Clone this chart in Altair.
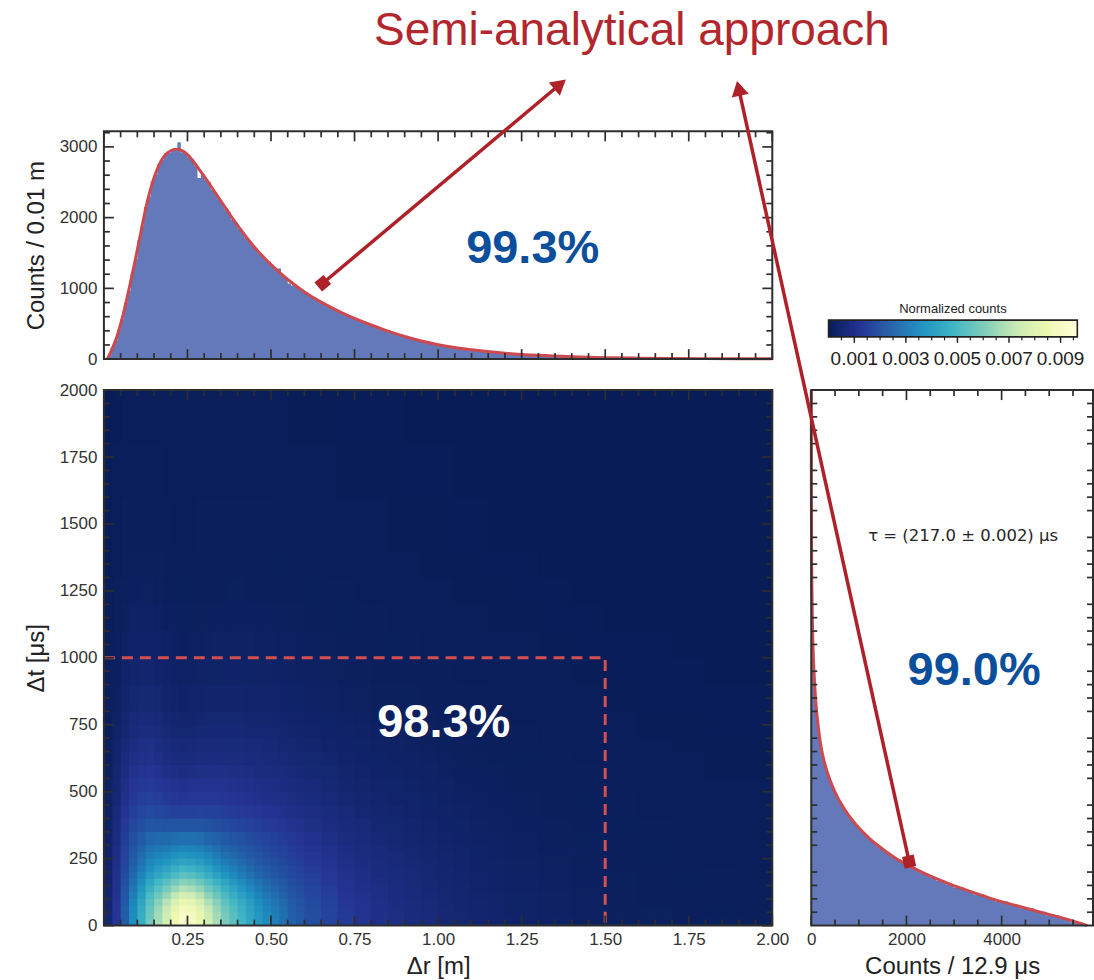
import altair as alt
import numpy as np
import pandas as pd

# ---------------------------------------------------------------- style
FONT = "Liberation Sans"
MATH_FONT = "DejaVu Sans"
HIST_FILL = "#6479b9"
FIT_RED = "#cc4a4f"
ARROW_RED = "#ae2129"
TITLE_RED = "#b2262d"
PCT_BLUE = "#0b4f9c"
FRAME = "#2e2e2e"
TEXT_DARK = "#262626"
CUT_RED = "#d34f50"

# ---------------------------------------------------------------- Δr histogram (bins of 0.01 m, 0 .. 2 m)
DR_BIN = 0.01
DR_COUNTS = [
    0, 45, 160, 255, 420, 570, 795, 970, 1215, 1410,
    1680, 1880, 2150, 2300, 2510, 2610, 2760, 2815, 2905, 2915,
    2970, 2950, 3065, 2925, 2915, 2850, 2820, 2735, 2560, 2625,
    2540, 2500, 2395, 2350, 2260, 2210, 2120, 2075, 1975, 1935,
    1845, 1800, 1720, 1680, 1600, 1565, 1495, 1465, 1400, 1380,
    1320, 1260, 1280, 1175, 1150, 1070, 1040, 1040, 990, 972,
    940, 898, 880, 840, 826, 788, 772, 735, 722, 690,
    676, 645, 632, 602, 590, 562, 552, 524, 514, 488,
    476, 450, 440, 414, 406, 381, 374, 350, 344, 322,
    316, 296, 290, 270, 266, 248, 243, 226, 222, 207,
    203, 188, 186, 173, 170, 158, 156, 144, 143, 132,
    131, 121, 120, 110, 109, 100, 99, 92, 91, 85,
    83, 77, 76, 70, 70, 65, 64, 59, 58, 54,
    53, 49, 49, 45, 44, 41, 40, 37, 37, 34,
    33, 30, 30, 27, 27, 25, 24, 22, 22, 21,
    20, 19, 18, 18, 17, 16, 16, 15, 14, 14,
    13, 13, 12, 12, 11, 11, 10, 10, 10, 9,
    9, 9, 8, 8, 8, 8, 7, 7, 7, 7,
    7, 6, 6, 6, 6, 6, 6, 5, 5, 5,
    5, 5, 5, 5, 5, 4, 4, 4, 4, 4,
]
DR_FIT_R = [0.01, 0.02, 0.03, 0.04, 0.05, 0.06, 0.07, 0.08, 0.09, 0.10,
            0.11, 0.12, 0.13, 0.14, 0.15, 0.16, 0.17, 0.18, 0.19, 0.20,
            0.21, 0.22, 0.23, 0.24, 0.25, 0.27, 0.29, 0.31, 0.33, 0.35,
            0.37, 0.40, 0.45, 0.50, 0.55, 0.60, 0.65, 0.70, 0.75, 0.80,
            0.85, 0.90, 0.95, 1.00, 1.10, 1.20, 1.30, 1.40, 1.50, 1.60,
            1.70, 1.80, 1.90, 2.00]
DR_FIT_C = [0, 95, 205, 335, 495, 680, 880, 1095, 1315, 1545,
            1780, 2015, 2230, 2410, 2565, 2690, 2790, 2865, 2915, 2945,
            2962, 2965, 2955, 2930, 2890, 2780, 2650, 2515, 2375, 2235,
            2095, 1890, 1585, 1335, 1125, 950, 806, 683, 577, 482,
            395, 320, 256, 204, 131, 84, 54, 34, 21, 14,
            9.5, 7, 5.5, 4.5]

# ---------------------------------------------------------------- Δt histogram (bins of 12.9 μs)
DT_BIN = 12.9
DT_COUNTS = [
    5690, 5440, 5210, 4920, 4680, 4390, 4140, 3860, 3640, 3410,
    3210, 2990, 2820, 2630, 2480, 2310, 2190, 2030, 1910, 1765,
    1670, 1550, 1470, 1360, 1290, 1195, 1130, 1045, 990, 918,
    868, 795, 765, 702, 668, 615, 585, 538, 510, 470,
    447, 410, 388, 360, 340, 318, 295, 270, 258, 236,
    226, 207, 199, 184, 178, 164, 158, 145, 141, 129,
    125, 114, 112, 102, 100, 91, 89, 81, 79, 72,
    70, 64, 62, 56, 55, 50, 49, 44, 43, 40,
    39, 35, 34, 31, 30, 28, 27, 25, 24, 22,
    21, 19, 18, 17, 16, 15, 14, 13, 12, 12,
    11, 10, 10, 9, 9, 8, 8, 8, 7, 7,
    7, 6, 6, 6, 5, 5, 5, 5, 4, 4,
    4, 4, 4, 3, 3, 3, 3, 3, 3, 2,
    2, 2, 2, 2, 2, 2, 2, 2, 2, 1,
    1, 1, 1, 1, 1, 1, 1, 1, 1, 1,
    1, 1, 1, 1, 1,
]
DT_FIT_T = [0, 25, 50, 75, 100, 125, 150, 175, 200, 225,
            250, 275, 300, 325, 350, 375, 400, 425, 450, 475,
            500, 550, 600, 650, 700, 750, 800, 850, 900, 950,
            1000, 1100, 1200, 1300, 1400, 1500, 1600, 1700, 1800, 2000]
DT_FIT_C = [5800, 5350, 4820, 4300, 3800, 3380, 2980, 2630, 2320, 2040,
            1790, 1580, 1395, 1225, 1080, 950, 835, 735, 645, 565,
            495, 380, 290, 225, 178, 142, 113, 90, 72, 57,
            45, 28, 18, 11, 7, 4.5, 3, 2, 1.5, 0.8]

# ---------------------------------------------------------------- 2-D map, normalized counts in units of 1e-5
HEAT_R_EDGES = ([round(0.025 * i, 3) for i in range(24)]
                + [round(0.6 + 0.05 * i, 3) for i in range(12)]
                + [round(1.2 + 0.1 * i, 3) for i in range(9)])
HEAT_T_EDGES = ([25 * i for i in range(12)]
                + [300 + 50 * i for i in range(10)]
                + [800 + 100 * i for i in range(6)]
                + [1400 + 200 * i for i in range(4)])
HEAT_E5 = [
    [50, 125, 240, 355, 460, 575, 670, 760, 855, 920, 895, 835, 750, 670, 595, 535, 480, 430, 385, 345, 315, 285, 250, 225, 195, 165, 135, 115, 100, 88, 77, 67, 58, 51, 44, 38, 32, 26, 21, 17, 14, 12, 10, 9],
    [50, 124, 238, 351, 455, 569, 663, 752, 846, 911, 886, 827, 743, 663, 589, 530, 475, 426, 381, 342, 312, 282, 248, 223, 193, 163, 134, 114, 99, 87, 76, 66, 57, 50, 44, 38, 32, 26, 21, 17, 14, 12, 10, 9],
    [49, 121, 232, 343, 444, 554, 645, 731, 821, 883, 859, 802, 721, 644, 572, 515, 462, 414, 371, 333, 304, 275, 241, 217, 189, 160, 131, 111, 97, 85, 75, 65, 56, 49, 43, 37, 31, 25, 20, 16, 14, 12, 10, 9],
    [48, 119, 227, 333, 429, 532, 616, 695, 779, 837, 815, 762, 686, 614, 546, 492, 443, 398, 357, 320, 293, 266, 233, 210, 183, 155, 127, 108, 94, 83, 73, 63, 55, 48, 42, 36, 30, 25, 20, 16, 13, 11, 9, 9],
    [46, 114, 218, 317, 405, 498, 571, 639, 713, 764, 745, 698, 630, 566, 505, 457, 412, 371, 334, 301, 276, 250, 221, 199, 174, 148, 122, 104, 91, 80, 70, 61, 53, 47, 40, 35, 29, 24, 19, 16, 13, 11, 9, 8],
    [45, 110, 209, 301, 380, 463, 526, 583, 646, 690, 674, 633, 574, 518, 464, 421, 381, 344, 311, 281, 258, 235, 208, 188, 165, 141, 116, 100, 87, 77, 68, 59, 51, 45, 39, 34, 28, 23, 19, 15, 12, 11, 9, 8],
    [43, 106, 200, 285, 356, 429, 481, 527, 579, 616, 603, 569, 518, 469, 422, 385, 350, 318, 288, 261, 241, 220, 195, 177, 156, 133, 110, 95, 84, 74, 65, 57, 49, 43, 37, 32, 27, 22, 18, 14, 12, 10, 8, 8],
    [42, 102, 190, 268, 330, 391, 430, 464, 504, 534, 524, 497, 456, 415, 376, 345, 316, 288, 263, 240, 222, 204, 181, 166, 146, 126, 105, 90, 80, 71, 62, 54, 47, 42, 36, 31, 26, 21, 17, 14, 11, 10, 8, 7],
    [40, 98, 182, 254, 310, 363, 395, 421, 454, 478, 470, 448, 413, 378, 344, 317, 291, 267, 244, 224, 208, 191, 171, 156, 138, 119, 100, 86, 76, 68, 60, 52, 46, 40, 34, 30, 25, 20, 17, 13, 11, 9, 8, 7],
    [39, 94, 174, 240, 290, 336, 360, 378, 404, 423, 417, 400, 370, 341, 313, 289, 267, 246, 226, 208, 194, 179, 160, 147, 130, 113, 95, 82, 73, 65, 57, 50, 44, 38, 33, 29, 24, 19, 16, 13, 10, 9, 7, 7],
    [37, 91, 166, 227, 272, 312, 330, 342, 362, 377, 373, 359, 335, 310, 285, 265, 246, 228, 210, 194, 181, 168, 150, 138, 123, 107, 90, 79, 70, 62, 55, 48, 42, 37, 32, 27, 23, 19, 15, 12, 10, 9, 7, 7],
    [36, 87, 158, 215, 255, 289, 302, 309, 324, 336, 333, 322, 302, 282, 260, 243, 227, 210, 195, 181, 170, 157, 141, 130, 116, 102, 86, 75, 67, 59, 53, 46, 40, 35, 30, 26, 22, 18, 15, 12, 10, 8, 7, 6],
    [33, 80, 146, 197, 231, 259, 266, 268, 277, 285, 284, 276, 261, 245, 228, 215, 201, 188, 175, 163, 153, 142, 128, 119, 106, 93, 79, 69, 61, 55, 49, 43, 37, 33, 28, 24, 20, 16, 14, 11, 9, 8, 6, 6],
    [30, 73, 131, 173, 199, 217, 216, 209, 209, 212, 213, 211, 203, 194, 183, 175, 166, 156, 147, 138, 131, 123, 111, 104, 93, 82, 70, 62, 55, 50, 44, 38, 34, 30, 25, 22, 18, 15, 12, 10, 8, 7, 5, 5],
    [27, 65, 116, 152, 172, 183, 176, 163, 158, 156, 159, 160, 158, 154, 147, 142, 137, 131, 124, 117, 112, 105, 96, 90, 82, 72, 62, 55, 49, 44, 39, 34, 30, 26, 23, 20, 16, 13, 11, 9, 7, 6, 5, 5],
    [24, 58, 103, 133, 149, 157, 148, 134, 127, 124, 127, 130, 130, 127, 123, 120, 116, 112, 106, 101, 97, 92, 84, 79, 72, 64, 54, 48, 44, 39, 35, 30, 27, 23, 20, 18, 15, 12, 10, 8, 6, 5, 4, 4],
    [22, 52, 92, 119, 133, 139, 130, 116, 109, 106, 109, 112, 112, 111, 108, 105, 102, 98, 94, 90, 86, 81, 74, 70, 64, 57, 49, 43, 39, 35, 31, 27, 24, 21, 18, 16, 13, 11, 9, 7, 6, 5, 4, 4],
    [19, 46, 81, 104, 116, 120, 111, 97, 90, 86, 89, 93, 94, 94, 92, 90, 88, 85, 81, 78, 75, 71, 65, 61, 56, 50, 43, 38, 34, 31, 28, 24, 21, 18, 16, 14, 12, 9, 8, 6, 5, 4, 3, 3],
    [17, 41, 72, 93, 102, 105, 96, 83, 76, 72, 75, 78, 80, 80, 79, 78, 77, 74, 71, 69, 66, 63, 57, 54, 50, 44, 38, 34, 31, 28, 25, 22, 19, 17, 14, 12, 10, 8, 7, 5, 4, 4, 3, 3],
    [15, 36, 64, 82, 90, 92, 83, 71, 64, 61, 63, 67, 69, 69, 69, 68, 67, 65, 62, 60, 58, 55, 50, 48, 44, 39, 34, 30, 27, 24, 22, 19, 17, 15, 12, 11, 9, 7, 6, 5, 4, 3, 3, 3],
    [13, 31, 55, 70, 77, 79, 71, 61, 54, 51, 53, 56, 58, 59, 58, 58, 57, 55, 54, 52, 50, 47, 43, 41, 38, 34, 29, 26, 23, 21, 19, 16, 14, 13, 11, 9, 8, 6, 5, 4, 3, 3, 2, 2],
    [12, 28, 49, 62, 68, 69, 62, 52, 46, 42, 44, 48, 50, 51, 50, 50, 50, 48, 47, 45, 44, 41, 38, 36, 33, 30, 26, 23, 21, 19, 17, 15, 13, 11, 9, 8, 7, 6, 5, 4, 3, 3, 2, 2],
    [10, 23, 40, 51, 56, 56, 50, 41, 36, 33, 35, 38, 40, 41, 41, 41, 40, 39, 38, 37, 36, 34, 31, 30, 27, 24, 21, 19, 17, 15, 14, 12, 11, 9, 8, 7, 6, 5, 4, 3, 2, 2, 2, 2],
    [8, 18, 32, 40, 44, 44, 39, 32, 27, 25, 26, 29, 30, 31, 31, 32, 31, 31, 30, 29, 28, 27, 25, 23, 21, 19, 17, 15, 13, 12, 11, 9, 8, 7, 6, 5, 5, 4, 3, 2, 2, 2, 1, 1],
    [6, 14, 25, 32, 34, 34, 30, 24, 20, 17, 19, 21, 23, 24, 24, 24, 24, 24, 23, 23, 22, 21, 19, 18, 17, 15, 13, 12, 11, 10, 9, 7, 7, 6, 5, 4, 4, 3, 2, 2, 2, 1, 1, 1],
    [5, 11, 19, 24, 26, 26, 23, 18, 15, 14, 15, 16, 17, 18, 18, 18, 18, 18, 18, 17, 17, 16, 15, 14, 13, 11, 10, 9, 8, 7, 6, 6, 5, 4, 4, 3, 3, 2, 2, 1, 1, 1, 1, 1],
    [4, 8, 15, 18, 20, 19, 17, 13, 10, 9, 10, 11, 12, 13, 13, 14, 14, 13, 13, 13, 13, 12, 11, 11, 10, 9, 8, 7, 6, 6, 5, 4, 4, 3, 3, 3, 2, 2, 1, 1, 1, 1, 1, 1],
    [3, 7, 11, 15, 16, 16, 14, 11, 9, 8, 8, 9, 10, 11, 11, 11, 11, 11, 11, 10, 10, 10, 9, 8, 8, 7, 6, 5, 5, 4, 4, 3, 3, 3, 2, 2, 2, 1, 1, 1, 1, 1, 0, 0],
    [2, 5, 8, 11, 12, 12, 10, 9, 7, 7, 7, 8, 8, 8, 8, 8, 8, 8, 8, 8, 7, 7, 7, 6, 6, 5, 4, 4, 4, 3, 3, 3, 2, 2, 2, 1, 1, 1, 1, 1, 1, 0, 0, 0],
    [2, 4, 6, 8, 9, 9, 8, 7, 6, 6, 6, 6, 7, 7, 7, 7, 7, 6, 6, 6, 6, 5, 5, 5, 4, 4, 3, 3, 3, 2, 2, 2, 2, 1, 1, 1, 1, 1, 1, 0, 0, 0, 0, 0],
    [1, 2, 4, 6, 6, 6, 6, 5, 5, 5, 5, 5, 5, 5, 5, 5, 5, 5, 4, 4, 4, 4, 3, 3, 3, 3, 2, 2, 2, 2, 1, 1, 1, 1, 1, 1, 1, 0, 0, 0, 0, 0, 0, 0],
]

# ---------------------------------------------------------------- annotations
PCT_TOP = (1.283, 1356, "99.3%")
PCT_MAIN = (1.017, 706, "98.3%")
PCT_SIDE = (3422, 900, "99.0%")
TAU_TXT = (3191, 1437, "τ = (217.0 ± 0.002) μs")
HEADLINE = (1.580, 4434, "Semi-analytical approach")
ARROW_TOP = {"tail": (0.655, 1072), "head": (1.365, 3885), "angle": 50}
ARROW_SIDE = {"tail": (2057, 239), "head": (-1526, 3127), "angle": 347.6}
CUT_R, CUT_T = 1.5, 1000

# colour bar
CB_MAX = 0.00965
CB_LABELS = [0.001, 0.003, 0.005, 0.007, 0.009]
CB_MINOR = [0.0005, 0.0015, 0.002, 0.0025, 0.0035, 0.004, 0.0045, 0.0055,
            0.006, 0.0065, 0.0075, 0.008, 0.0085, 0.0095]
YLGNBU_R = ["#081d58", "#253494", "#225ea8", "#1d91c0", "#41b6c4",
            "#7fcdbb", "#c7e9b4", "#edf8b1", "#ffffd9"]

# ---------------------------------------------------------------- geometry
W_MAIN, W_SIDE = 669, 282
H_TOP, H_MAIN = 228, 536
TOP_YMAX = 3220
SIDE_XMAX = 5920
MAJ, MIN = 10, 6

assert len(DR_COUNTS) == 200 and len(DT_COUNTS) == 155
assert len(HEAT_E5) == len(HEAT_T_EDGES) - 1
assert all(len(row) == len(HEAT_R_EDGES) - 1 for row in HEAT_E5)

sx_r = alt.Scale(domain=[0, 2.0], nice=False, zero=False)
sy_top = alt.Scale(domain=[0, TOP_YMAX], nice=False, zero=False)
sy_t = alt.Scale(domain=[0, 2000], nice=False, zero=False)
sx_side = alt.Scale(domain=[0, SIDE_XMAX], nice=False, zero=False)
s_col = alt.Scale(domain=[CB_MAX * i / 8 for i in range(9)], range=YLGNBU_R,
                  interpolate="rgb")
sx_cb = alt.Scale(domain=[0, CB_MAX], range=[17.3, 266.3], nice=False, zero=False)

AX = dict(ticks=False, domain=False, grid=False, tickSize=0,
          labelFont=FONT, labelFontSize=17, labelColor="#333333",
          titleFont=FONT, titleFontSize=24, titleColor="#222222",
          titleFontWeight="normal", labelFlush=False, labelOverlap=False)


def left_axis(values, title, height):
    return alt.Axis(values=values, title=title, format="d", labelPadding=7,
                    titleX=-60, titleY=height / 2, titleAngle=270,
                    titleAlign="center", titleBaseline="alphabetic", **AX)


def bottom_axis(values, title, width, fmt):
    return alt.Axis(values=values, title=title, format=fmt, labelPadding=19,
                    labelBaseline="alphabetic", titleX=width / 2, titleY=48,
                    titleAlign="center", titleBaseline="alphabetic", **AX)


def span(lo, hi, step):
    n = int(round((hi - lo) / step))
    return [round(lo + step * i, 6) for i in range(n + 1)]


def xticks(values, scale, height, top):
    out = []
    for vals, ln in values:
        df = pd.DataFrame({"v": vals})
        y1, y2 = (0, ln) if top else (height, height - ln)
        out.append(alt.Chart(df).mark_rule(color=FRAME, strokeWidth=1.7).encode(
            x=alt.X("v:Q", scale=scale, axis=None),
            y=alt.value(y1), y2=alt.value(y2)))
    return out


def yticks(values, scale, width, right):
    out = []
    for vals, ln in values:
        df = pd.DataFrame({"v": vals})
        x1, x2 = (width, width - ln) if right else (0, ln)
        out.append(alt.Chart(df).mark_rule(color=FRAME, strokeWidth=1.7).encode(
            y=alt.Y("v:Q", scale=scale, axis=None),
            x=alt.value(x1), x2=alt.value(x2)))
    return out


def frame(xs, ys, xdom, ydom):
    df = pd.DataFrame({"x0": [xdom[0]], "x1": [xdom[1]], "y0": [ydom[0]], "y1": [ydom[1]]})
    return alt.Chart(df).mark_rect(fillOpacity=0, stroke=FRAME, strokeWidth=2).encode(
        x=alt.X("x0:Q", scale=xs, axis=None), x2="x1",
        y=alt.Y("y0:Q", scale=ys, axis=None), y2="y1")


def label(pos, xs, ys, **style):
    df = pd.DataFrame({"x": [pos[0]], "y": [pos[1]], "t": [pos[2]]})
    return alt.Chart(df).mark_text(align="center", baseline="alphabetic", **style).encode(
        x=alt.X("x:Q", scale=xs, axis=None), y=alt.Y("y:Q", scale=ys, axis=None),
        text="t:N")


def arrow(spec, xs, ys):
    (x0, y0), (x1, y1) = spec["tail"], spec["head"]
    line_df = pd.DataFrame({"x": [x0, x1], "y": [y0, y1], "o": [0, 1]})
    shaft = alt.Chart(line_df).mark_line(color=ARROW_RED, strokeWidth=3.5).encode(
        x=alt.X("x:Q", scale=xs, axis=None), y=alt.Y("y:Q", scale=ys, axis=None), order="o:Q")
    head = alt.Chart(pd.DataFrame({"x": [x1], "y": [y1]})).mark_point(
        shape="triangle-up", filled=True, size=300, opacity=1, color=ARROW_RED,
        angle=spec["angle"]).encode(
        x=alt.X("x:Q", scale=xs, axis=None), y=alt.Y("y:Q", scale=ys, axis=None))
    foot = alt.Chart(pd.DataFrame({"x": [x0], "y": [y0]})).mark_point(
        shape="square", filled=True, size=140, opacity=1, color=ARROW_RED,
        angle=spec["angle"]).encode(
        x=alt.X("x:Q", scale=xs, axis=None), y=alt.Y("y:Q", scale=ys, axis=None))
    return [shaft, head, foot]


# ---------------------------------------------------------------- top panel: Δr projection
r_edges = [round(DR_BIN * i, 4) for i in range(len(DR_COUNTS) + 1)]
top_df = pd.DataFrame({"r": r_edges, "c": DR_COUNTS + [DR_COUNTS[-1]]})
top_bars = alt.Chart(top_df).mark_area(color=HIST_FILL, opacity=1, interpolate="step-after").encode(
    x=alt.X("r:Q", scale=sx_r, axis=None),
    y=alt.Y("c:Q", scale=sy_top, axis=left_axis([0, 1000, 2000, 3000], "Counts / 0.01 m", H_TOP)))
top_fit = alt.Chart(pd.DataFrame({"r": DR_FIT_R, "c": DR_FIT_C})).mark_line(
    color=FIT_RED, strokeWidth=3, interpolate="monotone").encode(
    x=alt.X("r:Q", scale=sx_r, axis=None), y=alt.Y("c:Q", scale=sy_top, axis=None))

r_major = span(0, 2, 0.25)
r_minor = [v for v in span(0, 2, 0.05) if round(v / 0.25, 6) % 1 != 0]
c_major = [0, 1000, 2000, 3000]
c_minor = [v for v in range(200, TOP_YMAX, 200) if v % 1000]

top = alt.layer(
    top_bars, top_fit,
    label(PCT_TOP, sx_r, sy_top, font=FONT, fontSize=47, fontWeight="bold", color=PCT_BLUE),
    label(HEADLINE, sx_r, sy_top, font=FONT, fontSize=46, fontWeight=300, color=TITLE_RED),
    *xticks([(r_major, MAJ), (r_minor, MIN)], sx_r, H_TOP, top=False),
    *xticks([(r_major, MAJ), (r_minor, MIN)], sx_r, H_TOP, top=True),
    *yticks([(c_major, MAJ), (c_minor, MIN)], sy_top, W_MAIN, right=False),
    *yticks([(c_major, MAJ), (c_minor, MIN)], sy_top, W_MAIN, right=True),
    frame(sx_r, sy_top, (0, 2.0), (0, TOP_YMAX)),
    *arrow(ARROW_TOP, sx_r, sy_top),
).resolve_axis(x="independent", y="independent").properties(width=W_MAIN, height=H_TOP)

# ---------------------------------------------------------------- colour bar
cb_edges = np.linspace(0, CB_MAX, 251)
cb_df = pd.DataFrame({"a": cb_edges[:-1], "b": np.minimum(cb_edges[1:] + CB_MAX / 400, CB_MAX),
                      "v": (cb_edges[:-1] + cb_edges[1:]) / 2})
CB_Y0, CB_Y1 = 189.0, 205.7
cb_strip = alt.Chart(cb_df).mark_rect().encode(
    x=alt.X("a:Q", scale=sx_cb, axis=None), x2="b",
    y=alt.value(CB_Y0), y2=alt.value(CB_Y1),
    color=alt.Color("v:Q", scale=s_col, legend=None))
cb_box = alt.Chart(pd.DataFrame({"a": [0.0], "b": [CB_MAX]})).mark_rect(
    fillOpacity=0, stroke="#222222", strokeWidth=1.6).encode(
    x=alt.X("a:Q", scale=sx_cb, axis=None), x2="b",
    y=alt.value(CB_Y0), y2=alt.value(CB_Y1))
cb_major = alt.Chart(pd.DataFrame({"v": CB_LABELS})).mark_rule(color="#222222", strokeWidth=1.5).encode(
    x=alt.X("v:Q", scale=sx_cb, axis=None), y=alt.value(CB_Y1), y2=alt.value(CB_Y1 + 6))
cb_minor = alt.Chart(pd.DataFrame({"v": CB_MINOR})).mark_rule(color="#222222", strokeWidth=1.2).encode(
    x=alt.X("v:Q", scale=sx_cb, axis=None), y=alt.value(CB_Y1), y2=alt.value(CB_Y1 + 3.5))
cb_text = alt.Chart(pd.DataFrame({"v": CB_LABELS, "t": [f"{v:.3f}" for v in CB_LABELS]})).mark_text(
    font=FONT, fontSize=19, color="#222222", baseline="alphabetic", align="center").encode(
    x=alt.X("v:Q", scale=sx_cb, axis=None), y=alt.value(234), text="t:N")
cb_title = alt.Chart(pd.DataFrame({"v": [CB_MAX / 2], "t": ["Normalized counts"]})).mark_text(
    font=FONT, fontSize=13, color="#222222", baseline="alphabetic", align="center").encode(
    x=alt.X("v:Q", scale=sx_cb, axis=None), y=alt.value(182.3), text="t:N")
cbar = alt.layer(cb_strip, cb_box, cb_major, cb_minor, cb_text, cb_title).properties(
    width=W_SIDE, height=H_TOP)

# ---------------------------------------------------------------- main panel: Δr vs Δt map
cells = []
for j, row in enumerate(HEAT_E5):
    for i, v in enumerate(row):
        # each cell reaches a hair into its neighbours so no seams show between them
        cells.append({"r0": HEAT_R_EDGES[i], "r1": min(HEAT_R_EDGES[i + 1] + 0.003, 2.0),
                      "t0": HEAT_T_EDGES[j], "t1": min(HEAT_T_EDGES[j + 1] + 3.5, 2000),
                      "v": v * 1e-5})
heat_df = pd.DataFrame(cells)
heat_cells = alt.Chart(heat_df).mark_rect().encode(
    x=alt.X("r0:Q", scale=sx_r,
            axis=bottom_axis([0.25, 0.5, 0.75, 1.0, 1.25, 1.5, 1.75, 2.0], "Δr [m]", W_MAIN, ".2f")),
    x2="r1",
    y=alt.Y("t0:Q", scale=sy_t,
            axis=left_axis(list(range(0, 2001, 250)), "Δt [μs]", H_MAIN)),
    y2="t1",
    color=alt.Color("v:Q", scale=s_col, legend=None))
cut_df = pd.DataFrame({"r": [0, CUT_R, CUT_R], "t": [CUT_T, CUT_T, 0], "o": [0, 1, 2]})
cut = alt.Chart(cut_df).mark_line(color=CUT_RED, strokeWidth=3, strokeDash=[11, 7]).encode(
    x=alt.X("r:Q", scale=sx_r, axis=None), y=alt.Y("t:Q", scale=sy_t, axis=None), order="o:Q")

t_major = list(range(0, 2001, 250))
t_minor = [v for v in range(50, 2000, 50) if v % 250]

heat = alt.layer(
    heat_cells, cut,
    label(PCT_MAIN, sx_r, sy_t, font=FONT, fontSize=47, fontWeight="bold", color="white"),
    *xticks([(r_major, MAJ), (r_minor, MIN)], sx_r, H_MAIN, top=False),
    *xticks([(r_major, MAJ), (r_minor, MIN)], sx_r, H_MAIN, top=True),
    *yticks([(t_major, MAJ), (t_minor, MIN)], sy_t, W_MAIN, right=False),
    *yticks([(t_major, MAJ), (t_minor, MIN)], sy_t, W_MAIN, right=True),
    frame(sx_r, sy_t, (0, 2.0), (0, 2000)),
).resolve_axis(x="independent", y="independent").properties(
    width=W_MAIN, height=H_MAIN, view=alt.ViewBackground(fill=YLGNBU_R[0], strokeWidth=0))

# ---------------------------------------------------------------- side panel: Δt projection
t_lo = [round(DT_BIN * i, 3) for i in range(len(DT_COUNTS))]
side_df = pd.DataFrame({
    # each bar also reaches a little down over the (wider) bar below it, hiding seams
    "y0": [max(v - 4.0, 0.0) for v in t_lo],
    "y1": [v + DT_BIN for v in t_lo],
    "c": DT_COUNTS, "z": 0})
side_bars = alt.Chart(side_df).mark_rect(color=HIST_FILL).encode(
    x=alt.X("c:Q", scale=sx_side,
            axis=bottom_axis([0, 2000, 4000], "Counts / 12.9 μs", W_SIDE, "d")),
    x2="z",
    y=alt.Y("y0:Q", scale=sy_t, axis=None), y2="y1")
side_fit = alt.Chart(pd.DataFrame({"t": DT_FIT_T, "c": DT_FIT_C})).mark_line(
    color=FIT_RED, strokeWidth=3, interpolate="monotone").encode(
    x=alt.X("c:Q", scale=sx_side, axis=None), y=alt.Y("t:Q", scale=sy_t, axis=None),
    order="t:Q")

n_major = [0, 2000, 4000]
n_minor = [v for v in range(500, SIDE_XMAX, 500) if v % 2000]

side = alt.layer(
    side_bars, side_fit,
    label(PCT_SIDE, sx_side, sy_t, font=FONT, fontSize=47, fontWeight="bold", color=PCT_BLUE),
    label(TAU_TXT, sx_side, sy_t, font=MATH_FONT, fontSize=16.5, color=TEXT_DARK),
    *xticks([(n_major, MAJ), (n_minor, MIN)], sx_side, H_MAIN, top=False),
    *xticks([(n_major, MAJ), (n_minor, MIN)], sx_side, H_MAIN, top=True),
    *yticks([(t_minor, MIN)], sy_t, W_SIDE, right=False),
    *yticks([(t_minor, MIN)], sy_t, W_SIDE, right=True),
    frame(sx_side, sy_t, (0, SIDE_XMAX), (0, 2000)),
    *arrow(ARROW_SIDE, sx_side, sy_t),
).resolve_axis(x="independent", y="independent").properties(width=W_SIDE, height=H_MAIN)

chart = alt.concat(
    top, cbar, heat, side, columns=2,
    spacing=alt.RowColnumber(row=31, column=39), bounds="flush",
).properties(
    padding={"left": 25, "top": 8, "right": 0, "bottom": 0},
    background="white",
).configure_view(strokeWidth=0)

chart.save("out.html", embed_options={"renderer": "svg", "actions": False})
